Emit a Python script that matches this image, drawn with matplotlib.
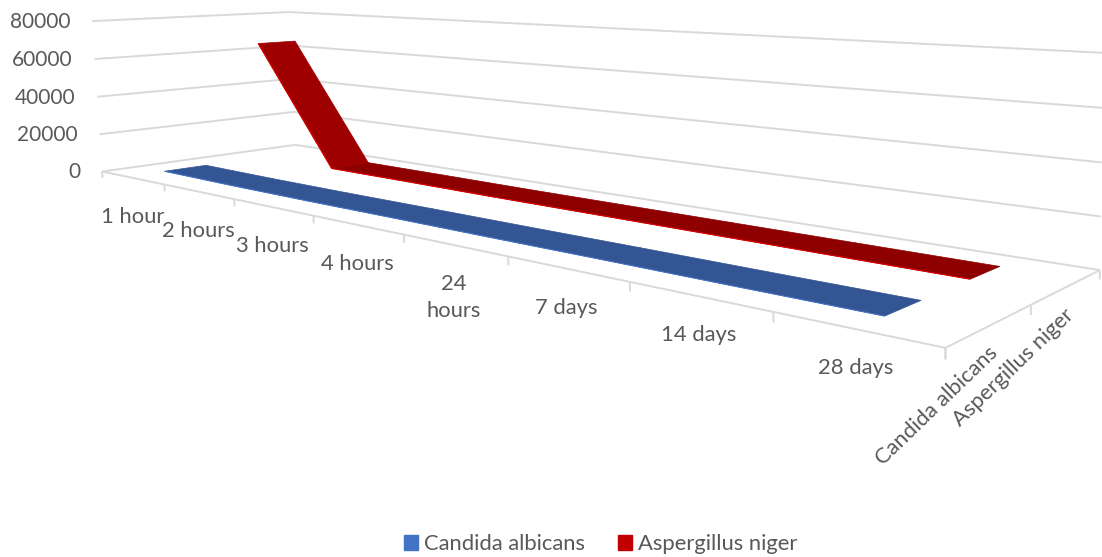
import numpy as np
import matplotlib
matplotlib.use("Agg")
import matplotlib.pyplot as plt
from matplotlib.patches import Patch
from matplotlib.transforms import offset_copy
from mpl_toolkits.mplot3d import proj3d
from mpl_toolkits.mplot3d.art3d import Poly3DCollection, Line3DCollection

plt.rcParams['font.family'] = ['Lato', 'DejaVu Sans']

times = ["1 hour", "2 hours", "3 hours", "4 hours", "24\nhours", "7 days", "14 days", "28 days"]
species = ["Candida albicans", "Aspergillus niger"]
candida = [1000, 500, 300, 300, 200, 200, 100, 100]
aspergillus = [65000, 1000, 800, 500, 400, 300, 200, 100]
zticks = [0, 20000, 40000, 60000, 80000]

W, H = 1102, 557
ZMAX = 80000.
GRID = '#D9D9D9'
TXT = '#595959'
FS = 15.0
FSL = 15.8

# camera: fit a projective matrix from chart box (cat, depth, value/ZMAX) -> image pixel
box = [(0,0,0), (8,0,0), (8,2,0), (0,2,0), (0,2,1), (0,0,1), (8,2,1), (8,1,0),
       (1,0,0), (2,0,0), (3,0,0), (4,0,0), (5,0,0), (6,0,0), (7,0,0)]
pix = [(103,171), (945,347), (1100,270), (294,145), (290,12), (91,21), (1103,53), (1032,304),
       (165,184), (234,200), (313,216), (404,234), (508,257), (630,282), (773,313)]
rows, rhs = [], []
for (a,b,c),(u,v) in zip(box, pix):
  rows.append([a,b,c,1,0,0,0,0,-u*a,-u*b,-u*c]); rhs.append(u)
  rows.append([0,0,0,0,a,b,c,1,-v*a,-v*b,-v*c]); rhs.append(v)
sol = np.linalg.lstsq(np.array(rows, float), np.array(rhs, float), rcond=None)[0]
P = np.append(sol, 1.).reshape(3,4)
P[:,2] /= ZMAX

fig = plt.figure(figsize=(W/100, H/100), dpi=100)
ax = fig.add_axes([0,0,1,1], projection='3d', computed_zorder=False)
ax.set_axis_off()
ax.apply_aspect = lambda position=None: None

def get_proj():
  flip = np.array([[1,0,0],[0,-1,H],[0,0,1.]])
  A = ax.transData.inverted().get_matrix() @ flip @ P
  return np.array([A[0], A[1], [0,1,0,0], A[2]])
ax.get_proj = get_proj

# plain 2D text anchored on a projected 3D point, moved by some pixels
def label(x, y, z, s, dx, dy, **kw):
  px, py, _ = proj3d.proj_transform(x, y, z, get_proj())
  tr = offset_copy(ax.transData, fig=fig, x=dx, y=dy, units='dots')
  return ax.text2D(px, py, s, color=TXT, transform=tr, **kw)

# walls, floor and ticks
segs = []
for z in zticks:
  segs.append([(0,0,z), (0,2,z)])
  segs.append([(0,2,z), (8,2,z)])
segs.append([(0,0,0), (8,0,0)])
segs.append([(8,0,0), (8,2,0)])
for i in range(len(times)+1):
  segs.append([(i,0,0), (i,0,-3500)])
for j in range(len(species)+1):
  segs.append([(8,j,0), (8,j,-3500)])
ax.add_collection3d(Line3DCollection(segs, colors=GRID, linewidths=1.4, zorder=1), autolim=False)

# ribbons
half = 0.2
xs = np.arange(len(times)) + 0.5
series = [(candida, 0.5, ['#335593']*7, '#4472C4'),
          (aspergillus, 1.5, ['#9E0000'] + ['#8E0000']*6, '#E00000')]
for vals, yc, faces, edge in series:
  verts = []
  for k in range(len(xs)-1):
    verts.append([(xs[k], yc-half, vals[k]), (xs[k+1], yc-half, vals[k+1]),
                  (xs[k+1], yc+half, vals[k+1]), (xs[k], yc+half, vals[k])])
  ax.add_collection3d(Poly3DCollection(verts, facecolors=faces, edgecolors=faces, linewidths=0.5, zorder=3), autolim=False)
  front = [[(xs[k], yc-half, vals[k]), (xs[k+1], yc-half, vals[k+1])] for k in range(len(xs)-1)]
  ax.add_collection3d(Line3DCollection(front, colors=edge, linewidths=0.8, zorder=4), autolim=False)

# labels
for z in zticks:
  label(0, 0, z, str(z), -22, -1, fontsize=FS, ha='right', va='center')
for x, t in zip(xs, times):
  label(x, 0, 0, t, 0, -29, fontsize=FSL, ha='center', va='top', linespacing=1.45)
for j, s in enumerate(species):
  label(8, j+0.5, 0, s, -54, -81, fontsize=FSL, ha='center', va='center', rotation=44, rotation_mode='anchor')

handles = [Patch(color='#4472C4', label=species[0]), Patch(color='#C00000', label=species[1])]
leg = fig.legend(handles=handles, loc='center', bbox_to_anchor=(601/W, 1-544/H), ncols=2, frameon=False,
                 fontsize=FSL, labelcolor=TXT, handlelength=0.64, handleheight=0.64,
                 handletextpad=0.27, columnspacing=1.5)

fig.savefig("out.png", dpi=100)
